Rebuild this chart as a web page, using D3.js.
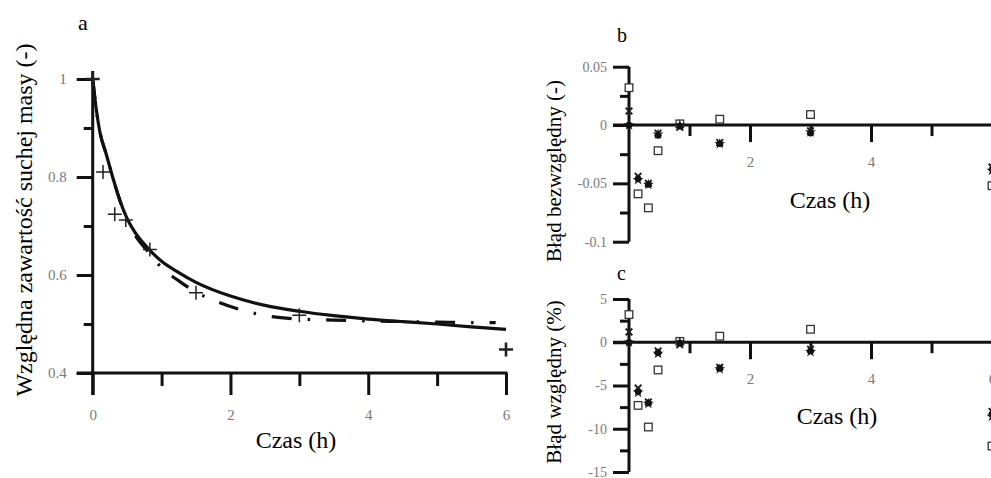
<!DOCTYPE html>
<html><head><meta charset="utf-8">
<script src="https://cdn.jsdelivr.net/npm/d3@7"></script>
<style>body{margin:0;background:#fff}svg{display:block}</style>
</head><body>
<svg id="c" width="991" height="478"></svg>
<script>
// ---------- DATA ----------
const expTime = [0, 0.15, 0.32, 0.48, 0.83, 1.5, 3, 6];
const expValue = [1, 0.81, 0.724, 0.712, 0.652, 0.564, 0.518, 0.448];

const solidTime = [0, 0.05, 0.1, 0.2, 0.3, 0.4, 0.5, 0.6, 0.8, 1.0, 1.25, 1.5, 2, 2.5, 3, 3.5, 4, 4.5, 5, 5.5, 6];
const solidValue = [1, 0.94, 0.895, 0.845, 0.795, 0.75, 0.715, 0.69, 0.655, 0.628, 0.605, 0.585, 0.557, 0.538, 0.526, 0.517, 0.51, 0.505, 0.5, 0.494, 0.489];

const dashTime = [0, 0.05, 0.1, 0.2, 0.3, 0.4, 0.5, 0.6, 0.8, 1.0, 1.25, 1.5, 1.8, 2.2, 2.6, 3, 3.5, 4, 4.5, 5, 5.5, 5.85];
const dashValue = [1, 0.94, 0.895, 0.845, 0.795, 0.75, 0.713, 0.685, 0.648, 0.615, 0.588, 0.565, 0.546, 0.527, 0.515, 0.51, 0.508, 0.506, 0.505, 0.504, 0.503, 0.503];

const errTime = [0, 0.15, 0.32, 0.48, 0.84, 1.5, 3, 6];
const absSquare = [0.032, -0.059, -0.071, -0.022, 0.001, 0.005, 0.009, -0.052];
const absCircle = [0, -0.046, -0.051, -0.009, -0.001, -0.016, -0.007, -0.038];
const absTimes  = [0.012, -0.044, -0.050, -0.007, -0.002, -0.015, -0.005, -0.036];
const absStar   = [0, -0.047, -0.051, -0.008, 0, -0.016, -0.006, -0.039];

const relSquare = [3.2, -7.3, -9.8, -3.2, 0.1, 0.7, 1.5, -12.0];
const relCircle = [0, -5.7, -7.0, -1.2, -0.1, -3.0, -1.0, -8.3];
const relTimes  = [1.2, -5.3, -6.9, -1.0, -0.3, -2.9, -0.8, -8.0];
const relStar   = [0, -5.8, -7.1, -1.3, 0, -3.1, -1.1, -8.6];

const aYMajor = [0.4, 0.6, 0.8, 1], aYMinor = [0.5, 0.7, 0.9];
const xMajorA = [0, 2, 4, 6], xMinorA = [1, 3, 5];
const xMinorBC = [1, 3, 5];
const bXMajor = [2, 4], cXMajor = [2, 4, 6];
const bYMajor = [-0.1, -0.05, 0, 0.05], bYMinor = [-0.075, -0.025, 0.025];
const bYLabels = ["-0.1", "-0.05", "0", "0.05"];
const cYMajor = [-15, -10, -5, 0, 5], cYMinor = [-12.5, -7.5, -2.5, 2.5];

// ---------- DRAW ----------
const svg = d3.select("#c");
const serif = "'Liberation Serif','Times New Roman',serif";
const tickGrey = "#7a7a7a";

function styleAxis(g, sw) {
  g.select(".domain").remove();
  g.selectAll(".tick line").attr("stroke", "#111").attr("stroke-width", sw);
  g.selectAll(".tick text").attr("fill", tickGrey).attr("font-family", serif);
}

// ===== Panel a =====
const xA = d3.scaleLinear([0, 6], [92.7, 506]);
const yA = d3.scaleLinear([0.4, 1], [373, 79]);

svg.append("g").attr("transform", `translate(${xA(0)},0)`)
  .call(d3.axisLeft(yA).tickValues(aYMinor).tickSize(9).tickFormat(""))
  .call(g => styleAxis(g, 3));
svg.append("g").attr("transform", `translate(${xA(0)},0)`)
  .call(d3.axisLeft(yA).tickValues(aYMajor).tickSize(16).tickPadding(10).tickFormat(d => String(d)))
  .call(g => { styleAxis(g, 3); g.selectAll("text").attr("font-size", 15); });
svg.append("g").attr("transform", `translate(0,${yA(0.4)})`)
  .call(d3.axisBottom(xA).tickValues(xMinorA).tickSize(13).tickFormat(""))
  .call(g => styleAxis(g, 3));
svg.append("g").attr("transform", `translate(0,${yA(0.4)})`)
  .call(d3.axisBottom(xA).tickValues(xMajorA).tickSize(22).tickPadding(14).tickFormat(d3.format("d")))
  .call(g => { styleAxis(g, 3); g.selectAll("text").attr("font-size", 15); });
svg.append("line").attr("x1", xA(0)).attr("x2", xA(0)).attr("y1", 71).attr("y2", yA(0.4) + 22)
  .attr("stroke", "#111").attr("stroke-width", 3);
svg.append("line").attr("x1", xA(0) - 16).attr("x2", xA(6) + 1.5).attr("y1", yA(0.4)).attr("y2", yA(0.4))
  .attr("stroke", "#111").attr("stroke-width", 3);

const lineA = d3.line().curve(d3.curveMonotoneX);
svg.append("path")
  .attr("d", lineA(dashTime.map((t, i) => [xA(t), yA(dashValue[i])])))
  .attr("fill", "none").attr("stroke", "#111").attr("stroke-width", 3.2)
  .attr("stroke-dasharray", "20,16,2.5,16");
svg.append("path")
  .attr("d", lineA(solidTime.map((t, i) => [xA(t), yA(solidValue[i])])))
  .attr("fill", "none").attr("stroke", "#111").attr("stroke-width", 3.2);

const plusSize = 7;
svg.append("g").selectAll("path").data(expTime.map((t, i) => [t, expValue[i]])).join("path")
  .attr("d", d => {
    const x = xA(d[0]), y = yA(d[1]);
    return `M${x - plusSize},${y}H${x + plusSize}M${x},${y - plusSize}V${y + plusSize}`;
  })
  .attr("stroke", "#222").attr("stroke-width", (d, i) => i === 0 || i === expTime.length - 1 ? 2.6 : 1.5).attr("fill", "none");

svg.append("text").attr("x", 78).attr("y", 30).attr("font-family", serif).attr("font-size", 22).text("a");
svg.append("text").attr("x", 296).attr("y", 448).attr("text-anchor", "middle")
  .attr("font-family", serif).attr("font-size", 24).text("Czas (h)");
svg.append("text").attr("transform", "translate(32,220) rotate(-90)").attr("text-anchor", "middle")
  .attr("font-family", serif).attr("font-size", 24).text("Względna zawartość suchej masy (-)");

// ===== Panels b and c =====
function errorPanel(opts) {
  const x = d3.scaleLinear([0, 6], [629, 992]);
  const y = d3.scaleLinear(opts.yDomain, opts.yRange);
  const x0 = x(0), y0 = y(0);
  svg.append("g").attr("transform", `translate(${x0},0)`)
    .call(d3.axisLeft(y).tickValues(opts.yMinor).tickSize(9).tickFormat(""))
    .call(g => styleAxis(g, 3));
  svg.append("g").attr("transform", `translate(${x0},0)`)
    .call(d3.axisLeft(y).tickValues(opts.yMajor).tickSize(16).tickPadding(6).tickFormat(opts.yFormat))
    .call(g => { styleAxis(g, 3); g.selectAll("text").attr("font-size", 14); });
  svg.append("g").attr("transform", `translate(0,${y0})`)
    .call(d3.axisBottom(x).tickValues(xMinorBC).tickSize(11).tickFormat(""))
    .call(g => styleAxis(g, 3));
  svg.append("g").attr("transform", `translate(0,${y0})`)
    .call(d3.axisBottom(x).tickValues(opts.xMajor).tickSize(17).tickPadding(14).tickFormat(d3.format("d")))
    .call(g => { styleAxis(g, 3); g.selectAll("text").attr("font-size", 15); });
  svg.append("line").attr("x1", x0).attr("x2", x0).attr("y1", opts.yRange[1]).attr("y2", opts.yRange[0])
    .attr("stroke", "#111").attr("stroke-width", 3);
  svg.append("line").attr("x1", x0 - 16).attr("x2", 991).attr("y1", y0).attr("y2", y0)
    .attr("stroke", "#111").attr("stroke-width", 3);

  const g = svg.append("g");
  g.selectAll("rect.sq").data(errTime.map((t, i) => [t, opts.sq[i]])).join("rect").attr("class", "sq")
    .attr("x", d => x(d[0]) - 3.8).attr("y", d => y(d[1]) - 3.8).attr("width", 7.6).attr("height", 7.6)
    .attr("fill", "#fff").attr("stroke", "#333").attr("stroke-width", 1.3);
  g.selectAll("path.tm").data(errTime.map((t, i) => [t, opts.tm[i]])).join("path").attr("class", "tm")
    .attr("d", d => { const cx = x(d[0]), cy = y(d[1]), s = 3.3;
      return `M${cx - s},${cy - s}L${cx + s},${cy + s}M${cx + s},${cy - s}L${cx - s},${cy + s}`; })
    .attr("stroke", "#222").attr("stroke-width", 2);
  g.selectAll("path.st").data(errTime.map((t, i) => [t, opts.st[i]])).join("path").attr("class", "st")
    .attr("d", d => d3.symbol(d3.symbolStar, 38)())
    .attr("transform", d => `translate(${x(d[0])},${y(d[1])})`)
    .attr("fill", "#222");
  g.selectAll("circle.ci").data(errTime.map((t, i) => [t, opts.ci[i]])).join("circle").attr("class", "ci")
    .attr("cx", d => x(d[0])).attr("cy", d => y(d[1])).attr("r", 3.3).attr("fill", "#111");

  svg.append("text").attr("x", 617).attr("y", opts.letterY).attr("font-family", serif).attr("font-size", 20).text(opts.letter);
  svg.append("text").attr("x", opts.czasX).attr("y", opts.czasY).attr("text-anchor", "middle")
    .attr("font-family", serif).attr("font-size", 24).text("Czas (h)");
  svg.append("text").attr("transform", `translate(561,${opts.titleY}) rotate(-90)`).attr("text-anchor", "middle")
    .attr("font-family", serif).attr("font-size", 21).text(opts.title);
}

errorPanel({
  yDomain: [-0.1, 0.05], yRange: [241.7, 66.7], yMajor: bYMajor, yMinor: bYMinor, xMajor: bXMajor,
  yFormat: d => bYLabels[bYMajor.indexOf(d)],
  sq: absSquare, ci: absCircle, tm: absTimes, st: absStar,
  letter: "b", letterY: 42, czasX: 830, czasY: 208, titleY: 171, title: "Błąd  bezwzględny (-)"
});
errorPanel({
  yDomain: [-15, 5], yRange: [472, 299], yMajor: cYMajor, yMinor: cYMinor, xMajor: cXMajor,
  yFormat: d => String(d),
  sq: relSquare, ci: relCircle, tm: relTimes, st: relStar,
  letter: "c", letterY: 280, czasX: 837, czasY: 424, titleY: 382, title: "Błąd względny (%)"
});
</script>
</body></html>
